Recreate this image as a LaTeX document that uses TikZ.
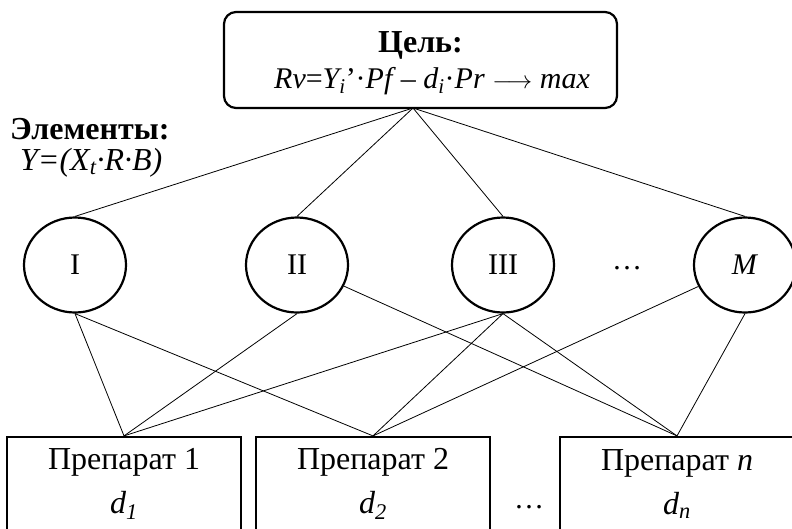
\documentclass[tikz,border=0pt]{standalone}
\usepackage{fontspec}
\setmainfont{Liberation Serif}
\usetikzlibrary{shapes.geometric}
\begin{document}
\begin{tikzpicture}[x=1pt,y=-1pt,
  elem/.style={draw,ellipse,line width=2.2pt,minimum width=102pt,minimum height=95pt,inner sep=0pt,font=\fontsize{30}{30}\selectfont},
  prep/.style={draw,rectangle,line width=2.2pt,minimum width=234pt,minimum height=94pt,inner sep=0pt},
  goal/.style={draw,rectangle,rounded corners=12pt,line width=2.2pt,minimum width=393pt,minimum height=96pt,inner sep=0pt},
  txt/.style={inner sep=0pt,align=center,font=\fontsize{32}{44}\selectfont},
  link/.style={line width=0.8pt},
  lbl/.style={inner sep=0pt,anchor=west,font=\fontsize{32}{30}\selectfont},
  dotsl/.style={inner sep=0pt,font=\fontsize{30}{30}\selectfont}]
\useasboundingbox (0,0) rectangle (792,528);
\node[goal] (goal) at (420.5,60) {};
\node[inner sep=0pt,font=\fontsize{32}{30}\selectfont] (goalt) at (420.5,45) {\textbf{Цель:}};
\node[inner sep=0pt,font=\fontsize{30}{30}\selectfont] (goalf) at (432,81) {\textit{Rv}=\textit{Y\textsubscript{i}}’·\textit{Pf}\,– \textit{d\textsubscript{i}}·\textit{Pr} $\longrightarrow$ \textit{max}};
\coordinate (apex) at (413,108);
\node[lbl] (elt) at (10,129) {\textbf{Элементы:}};
\node[lbl] (form) at (20,163) {\textit{Y=(X\textsubscript{t}·R·B)}};
\node[elem] (e1) at (75,265) {I};
\node[elem] (e2) at (297,265) {II};
\node[elem] (e3) at (503,265) {III};
\node[elem] (eM) at (745,265) {\textit{M}};
\node[dotsl] (d1) at (627,268) {…};
\node[prep] (p1) at (124,484) {};
\node[prep] (p2) at (373,484) {};
\node[prep] (pn) at (677,484) {};
\node[txt] (t1) at (124,484) {Препарат 1\\\textit{d\textsubscript{1}}};
\node[txt] (t2) at (373,484) {Препарат 2\\\textit{d\textsubscript{2}}};
\node[txt] (tn) at (677,484) {Препарат \textit{n}\\\textit{d\textsubscript{n}}};
\node[dotsl] (d2) at (529,507) {…};
\foreach \e in {e1,e2,e3,eM} \draw[link] (apex) -- (\e.north);
\draw[link] (e1.south) -- (p1.north);
\draw[link] (e1.south) -- (p2.north);
\draw[link] (e2.south) -- (p1.north);
\draw[link] (e2) -- (pn.north);
\draw[link] (e3.south) -- (p1.north);
\draw[link] (e3.south) -- (p2.north);
\draw[link] (e3.south) -- (pn.north);
\draw[link] (eM) -- (p2.north);
\draw[link] (eM.south) -- (pn.north);
\end{tikzpicture}
\end{document}
